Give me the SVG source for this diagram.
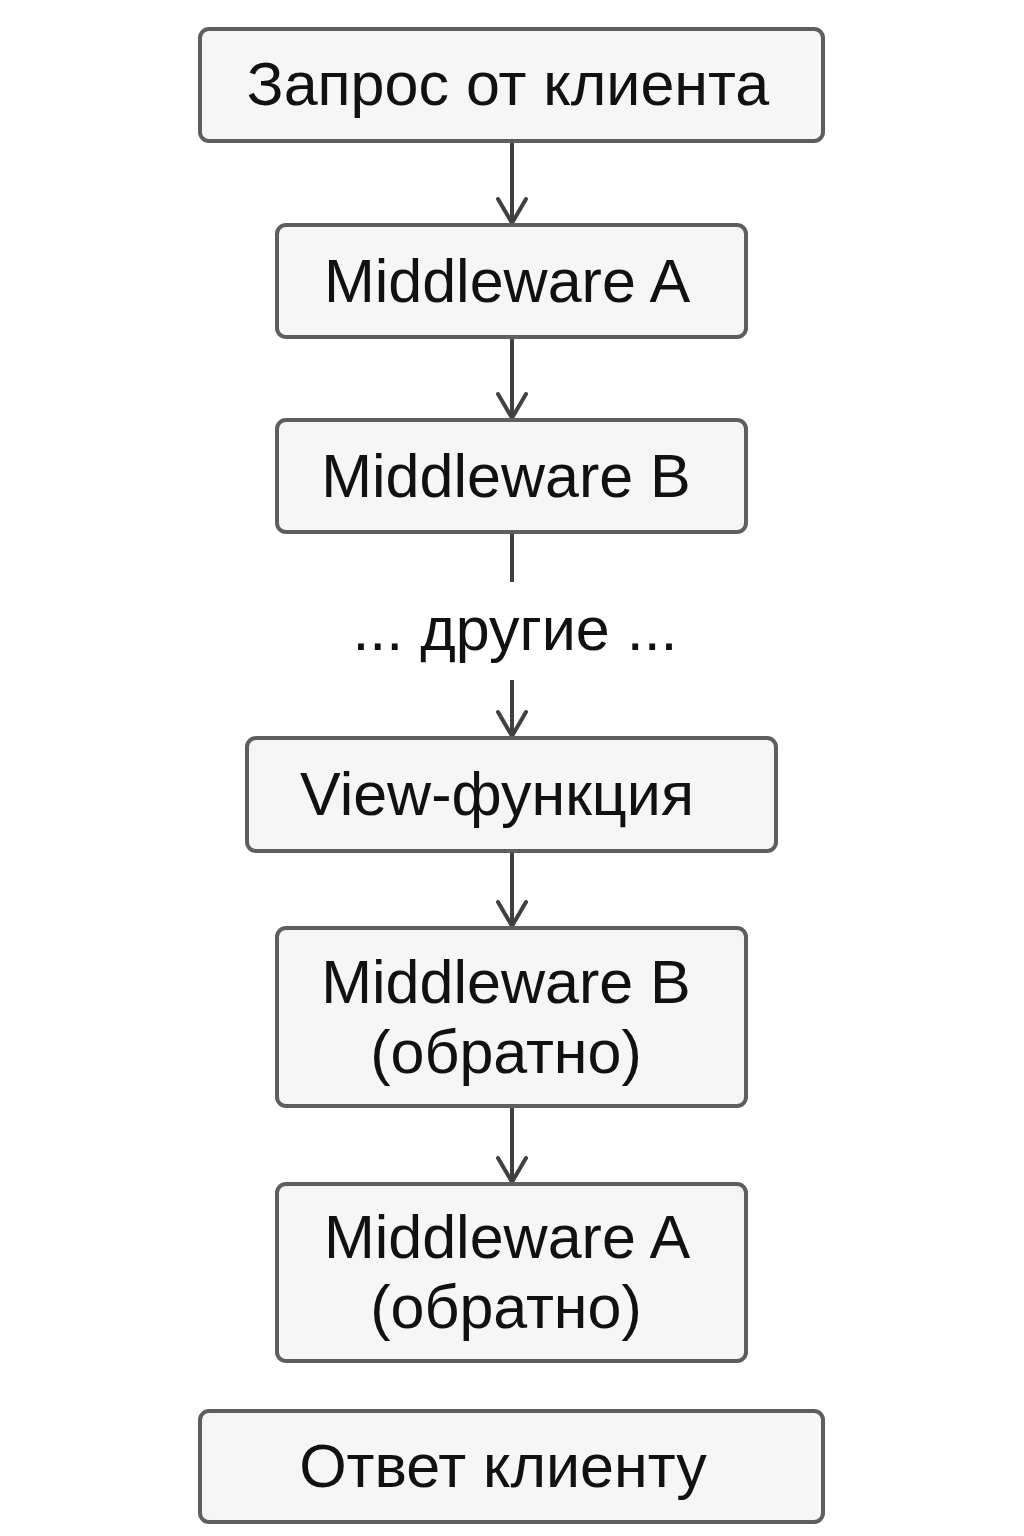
<svg xmlns="http://www.w3.org/2000/svg" width="1024" height="1536" viewBox="0 0 1024 1536">
  <defs>
    <style>
      .box { fill: #f6f6f6; stroke: #5e5e5e; stroke-width: 4; }
      .lbl { font-family: "Liberation Sans", Arial, sans-serif; font-size: 61px; fill: #111111; text-anchor: middle; }
      .edge { stroke: #404040; stroke-width: 4; fill: none; }
      .head { stroke: #404040; stroke-width: 4; fill: none; stroke-linecap: round; stroke-linejoin: round; }
    </style>
  </defs>
  <rect width="1024" height="1536" fill="#ffffff"/>

  <g id="connectors">
    <line class="edge" x1="512" y1="142" x2="512" y2="223"/>
    <polyline class="head" points="498,199 512,223 526,199"/>
    <line class="edge" x1="512" y1="338" x2="512" y2="418"/>
    <polyline class="head" points="498,394 512,418 526,394"/>
    <line class="edge" x1="512" y1="533" x2="512" y2="582"/>
    <line class="edge" x1="512" y1="680" x2="512" y2="736"/>
    <polyline class="head" points="498,712 512,736 526,712"/>
    <line class="edge" x1="512" y1="852" x2="512" y2="926"/>
    <polyline class="head" points="498,902 512,926 526,902"/>
    <line class="edge" x1="512" y1="1107" x2="512" y2="1182"/>
    <polyline class="head" points="498,1158 512,1182 526,1158"/>
  </g>

  <g id="request">
    <rect class="box" x="200" y="29" width="623" height="112" rx="9"/>
    <text class="lbl" x="508" y="105">Запрос от клиента</text>
  </g>

  <g id="middleware-a">
    <rect class="box" x="277" y="225" width="469" height="112" rx="9"/>
    <text class="lbl" x="507" y="302">Middleware A</text>
  </g>

  <g id="middleware-b">
    <rect class="box" x="277" y="420" width="469" height="112" rx="9"/>
    <text class="lbl" x="506" y="497">Middleware B</text>
  </g>

  <g id="others">
    <text class="lbl" x="515" y="650">... другие ...</text>
  </g>

  <g id="view-function">
    <rect class="box" x="247" y="738" width="529" height="113" rx="9"/>
    <text class="lbl" x="497" y="815">View-функция</text>
  </g>

  <g id="middleware-b-back">
    <rect class="box" x="277" y="928" width="469" height="178" rx="9"/>
    <text class="lbl" x="506" y="1003">Middleware B</text>
    <text class="lbl" x="506" y="1073">(обратно)</text>
  </g>

  <g id="middleware-a-back">
    <rect class="box" x="277" y="1184" width="469" height="177" rx="9"/>
    <text class="lbl" x="507" y="1258">Middleware A</text>
    <text class="lbl" x="506" y="1328">(обратно)</text>
  </g>

  <g id="response">
    <rect class="box" x="200" y="1411" width="623" height="111" rx="9"/>
    <text class="lbl" x="503" y="1487">Ответ клиенту</text>
  </g>
</svg>
